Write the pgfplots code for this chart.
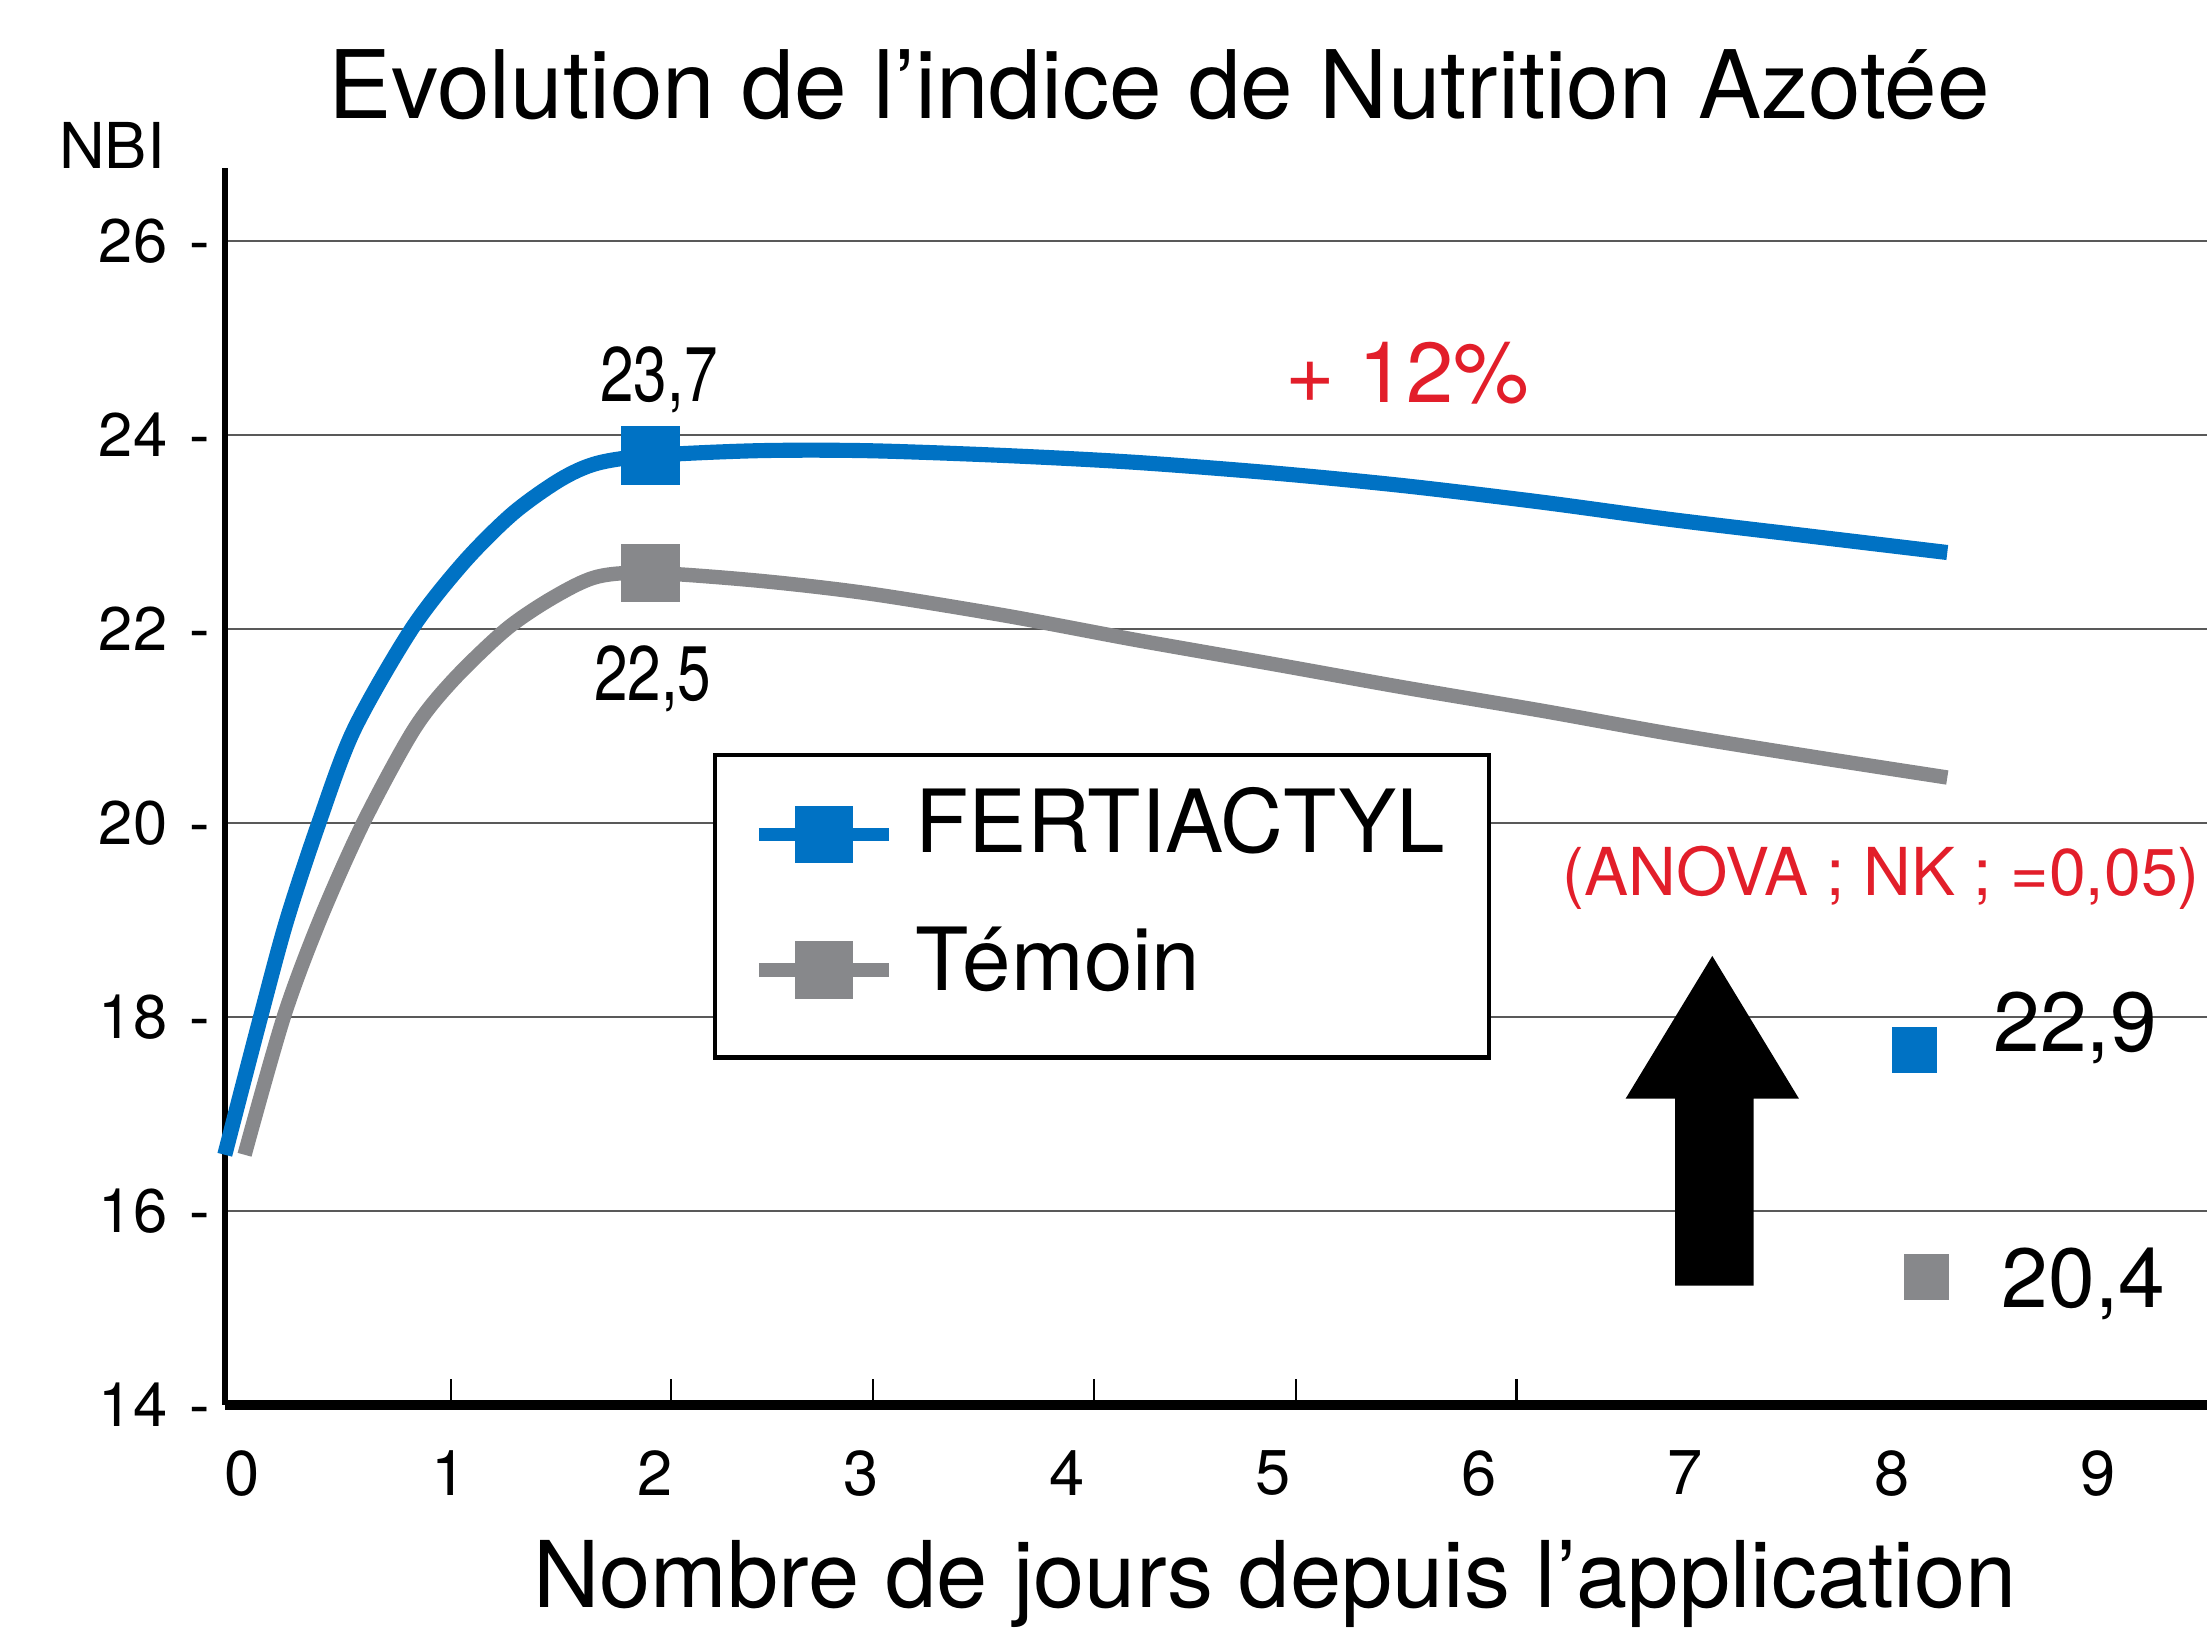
\documentclass[border=0pt]{standalone}
\usepackage{fontspec}
\setmainfont{TeX Gyre Heros}
\newfontfamily\condensed[FakeStretch=0.78]{TeX Gyre Heros}
\usepackage{pgfplots}
\pgfplotsset{compat=1.18}
\definecolor{cblue}{RGB}{0,114,196}
\definecolor{cgray}{RGB}{135,136,139}
\definecolor{cred}{RGB}{226,30,42}
\newcommand{\fs}[1]{\fontsize{#1}{#1}\selectfont}
\pgfplotsset{
  blueleg/.style={legend image code/.code={\draw[##1, line width=3.9pt, mark indices={2}, yshift=-1.2mm] plot coordinates {(0cm,0cm) (0.65cm,0cm) (1.3cm,0cm)};}},
  grayleg/.style={legend image code/.code={\draw[##1, line width=3.9pt, mark indices={2}, yshift=-0.9mm] plot coordinates {(0cm,0cm) (0.65cm,0cm) (1.3cm,0cm)}; \path (0cm,-6.4mm);}},
}
\begin{document}
\begin{tikzpicture}
\path[use as bounding box] (0,0) rectangle (22.11cm,16.29cm);
\begin{axis}[
  at={(2.25cm,2.24cm)}, anchor=south west,
  scale only axis, width=19.82cm, height=12.365cm,
  xmin=-0.085, xmax=9.53, ymin=14, ymax=26.75,
  clip=false,
  axis x line=bottom, axis y line=left,
  x axis line style={-, line width=2.6pt},
  y axis line style={-, line width=1.8pt},
  tick align=inside,
  xtick={1.01,2.08,3.06,4.13,5.11,6.18}, xticklabels={},
  xtick style={black, line width=0.6pt}, major tick length=2.6mm,
  extra x ticks={0,1,2,3,4,5,6,7,8,9},
  extra x tick labels={0,1,2,3,4,5,6,7,8,9},
  extra x tick style={major tick length=0pt},
  xticklabel style={anchor=north, inner sep=0pt, yshift=-4.5mm, font=\fs{18}},
  ytick={14,16,18,20,22,24,26},
  yticklabels={14\hspace{2.2mm}-,16\hspace{2.2mm}-,18\hspace{2.2mm}-,20\hspace{2.2mm}-,22\hspace{2.2mm}-,24\hspace{2.2mm}-,26\hspace{2.2mm}-},
  ytick style={draw=none},
  yticklabel style={anchor=east, inner sep=0pt, xshift=-1.45mm, font=\fs{17.5}},
  ymajorgrids,
  major grid style={black!65, line width=0.6pt},
  legend cell align=left,
  legend style={at={(axis cs:2.28,20.72)}, anchor=north west, draw=black, line width=1.2pt,
    font=\fs{24.8}, inner xsep=3.7mm, inner ysep=2.5mm, row sep=5.5mm},
]
\addplot[cblue, line width=4.3pt, smooth, mark=square*, mark indices={11}, mark size=2.2mm,
  mark options={solid, fill=cblue, draw=none}, blueleg] coordinates {
  (-0.086,16.58) (0.09,18.02) (0.215,19.0) (0.37,20.0) (0.54,20.96) (0.82,22.0) (1.07,22.68)
  (1.31,23.19) (1.54,23.54) (1.72,23.71) (1.98,23.79) (2.5,23.84) (3.03,23.84) (3.7,23.79)
  (4.33,23.72) (5.0,23.61) (5.63,23.48) (6.3,23.31) (6.93,23.13) (7.6,22.96) (8.27,22.79)};
\addlegendentry{\hspace{1.3mm}FERTIACTYL}
\addplot[cgray, line width=4.1pt, smooth, mark=square*, mark indices={10}, mark size=2.2mm,
  mark options={solid, fill=cgray, draw=none}, grayleg] coordinates {
  (0.01,16.58) (0.20,18.0) (0.375,19.0) (0.585,20.0) (0.83,20.96) (1.02,21.47) (1.28,22.0)
  (1.51,22.33) (1.72,22.54) (1.98,22.58) (2.5,22.5) (3.03,22.37) (3.7,22.14) (4.33,21.89)
  (5.0,21.64) (5.63,21.40) (6.3,21.16) (6.93,20.92) (7.6,20.69) (8.27,20.47)};
\addlegendentry{\hspace{1.3mm}Témoin}
% arrow
\addplot[fill=black, draw=none, forget plot] coordinates {
  (6.95,15.23) (7.33,15.23) (7.33,17.16) (7.55,17.16) (7.13,18.63) (6.71,17.16) (6.95,17.16)} -- cycle;
% final values
\addplot[cblue, only marks, mark=square*, mark size=2.2mm, forget plot]
  coordinates {(8.11,17.66)};
\addplot[cgray, only marks, mark=square*, mark size=2.2mm, forget plot]
  coordinates {(8.17,15.32)};
\node[anchor=base] at (axis cs:2.02,24.35) {\fs{22}\condensed 23,7};
\node[anchor=base] at (axis cs:1.99,21.26) {\fs{22}\condensed 22,5};
\node[anchor=base, text=cred] at (axis cs:5.65,24.34) {\fs{24.2}+ 12\%};
\node[anchor=base, text=cred] at (axis cs:7.95,19.25) {\fs{18.8}(ANOVA ; NK ; =0,05)};
\node[anchor=base] at (axis cs:8.89,17.64) {\fs{23.9}22,9};
\node[anchor=base] at (axis cs:8.93,15.01) {\fs{23.9}20,4};
\end{axis}
\node[anchor=base] at (11.59cm,15.107cm) {\fs{26.9}Evolution de l’indice de Nutrition Azotée};
\node[anchor=base] at (1.12cm,14.605cm) {\fs{18}NBI};
\node[anchor=base] at (12.75cm,0.21cm) {\fs{26.2}Nombre de jours depuis l’application};
\end{tikzpicture}
\end{document}
